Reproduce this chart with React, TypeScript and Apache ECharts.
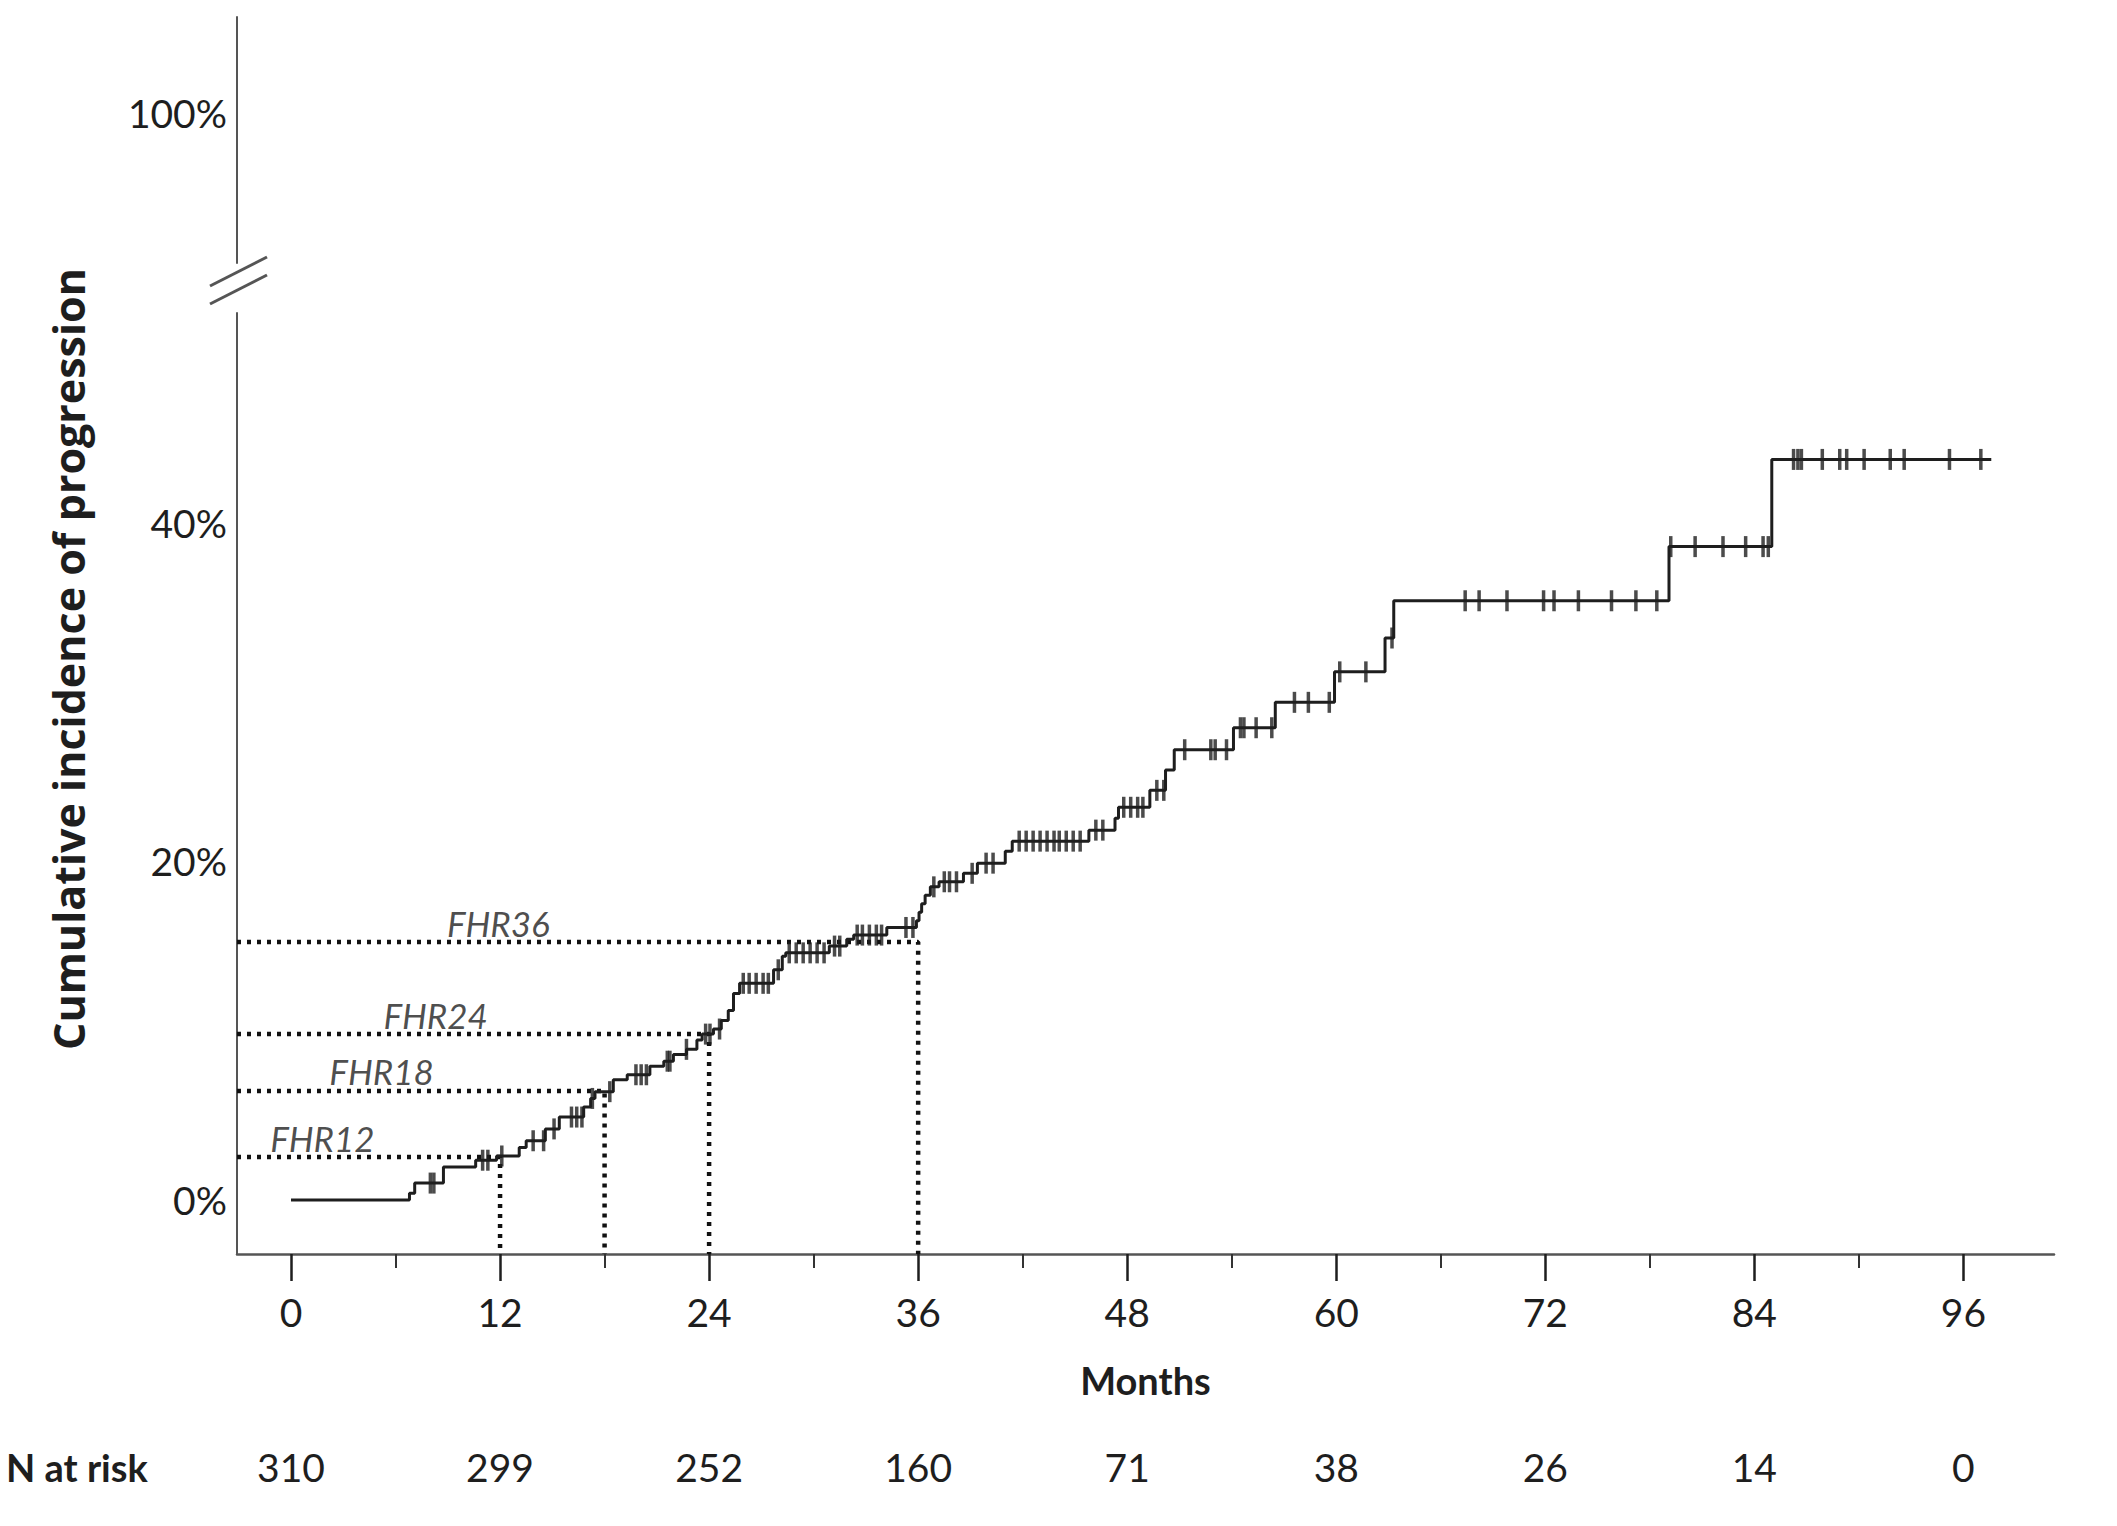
import React, { useEffect, useRef } from "react";
import * as echarts from "echarts";

// Cumulative incidence curve (step points: month, % after the step)
const stepMonths = [
  0, 6.8, 7.1, 8.75, 10.6, 11.8, 13.1, 13.5, 14.6, 15.4, 16.8, 17.2, 17.45,
  18.5, 19.3, 20.6, 21.4, 21.95, 22.7, 23.3, 23.6, 24.25, 24.7, 25.1, 25.4,
  25.75, 27.7, 28.2, 28.4, 30.9, 31.9, 32.3, 34.2, 35.9, 36.05, 36.2, 36.4,
  36.7, 37.2, 38.6, 39.4, 41.0, 41.4, 45.8, 47.3, 47.5, 49.3, 50.2, 50.7,
  54.1, 56.5, 59.9, 62.8, 63.3, 79.1, 85.0, 97.6,
];
const stepPct = [
  0, 0.4, 1.0, 1.95, 2.35, 2.6, 3.1, 3.5, 4.2, 4.9, 5.5, 6.0, 6.4,
  7.1, 7.4, 7.9, 8.2, 8.6, 8.9, 9.45, 9.8, 10.1, 10.6, 11.2, 12.2,
  12.8, 13.6, 14.4, 14.6, 15.0, 15.4, 15.65, 16.1, 16.5, 17.0, 17.5, 18.0,
  18.5, 18.8, 19.3, 19.9, 20.6, 21.2, 21.85, 22.55, 23.2, 24.2, 25.4, 26.6,
  27.9, 29.4, 31.2, 33.2, 35.4, 38.6, 43.75, 43.75,
];

// censored observations (months)
const censorMonths = [
  8.0, 8.2, 11.0, 11.3, 12.1, 13.9, 14.5, 15.1, 16.1, 16.4, 16.7, 17.3, 18.3,
  19.8, 20.1, 20.4, 21.6, 21.75, 22.7, 23.8, 24.05, 24.6, 25.96, 26.3, 26.7,
  27.1, 27.4, 27.97, 28.6, 29.0, 29.4, 29.8, 30.2, 30.6, 31.2, 31.5, 32.5,
  32.8, 33.2, 33.6, 33.9, 35.3, 35.7, 36.9, 37.5, 37.8, 38.2, 39.1, 39.9,
  40.3, 41.8, 42.2, 42.6, 43.0, 43.4, 43.8, 44.1, 44.5, 44.9, 45.3, 46.2,
  46.6, 47.8, 48.2, 48.6, 48.9, 49.7, 50.1, 51.3, 52.8, 53.05, 53.7, 54.5,
  54.7, 55.4, 56.3, 57.6, 58.4, 59.6, 60.2, 61.7, 63.2, 67.4, 68.2, 69.8,
  71.9, 72.5, 73.9, 75.8, 77.2, 78.4, 79.2, 80.6, 82.2, 83.5, 84.5, 84.8,
  86.25, 86.5, 86.7, 87.9, 88.9, 89.3, 90.3, 91.8, 92.6, 95.2, 97.0,
];

// FHR reference lines
const fhrNames = ["FHR12", "FHR18", "FHR24", "FHR36"];
const fhrMonths = [12, 18, 24, 36];
const fhrValues = [2.54, 6.44, 9.8, 15.24];
const fhrLabelAt = [1.8, 5.2, 8.3, 11.9];

const monthTicks = [0, 12, 24, 36, 48, 60, 72, 84, 96];
const minorTicks = [6, 18, 30, 42, 54, 66, 78, 90];
const nAtRisk = [310, 299, 252, 160, 71, 38, 26, 14, 0];
const lowerTicks = [0, 20, 40];
const upperTicks = [100];

const X_MIN = -3.1;
const X_MAX = 101.2;
const Y_MIN = -3.19;
const Y_MAX = 52.4;
const Y2_MIN = 91.14;
const Y2_MAX = 105.67;

const INK = "#1e1e1e";
const AXIS = "#555";

const curveAt = (t: number) => {
  let v = stepPct[0];
  for (let i = 0; i < stepMonths.length; i++) {
    if (stepMonths[i] <= t) v = stepPct[i];
  }
  return v;
};

const App = () => {
  const chartRef = useRef<HTMLDivElement>(null);

  useEffect(() => {
    if (!chartRef.current) return;
    const chart = echarts.init(chartRef.current, null, { renderer: "svg" });

    const dotted = fhrNames.map((n, i) => ({
      type: "line",
      name: n,
      xAxisIndex: 0,
      yAxisIndex: 0,
      symbol: "none",
      z: 1,
      lineStyle: { color: "#111", width: 4.5, type: [4, 6], cap: "butt" },
      data: [
        [X_MIN, fhrValues[i]],
        [fhrMonths[i], fhrValues[i]],
        [fhrMonths[i], Y_MIN],
      ],
    }));

    chart.setOption({
      animation: false,
      textStyle: { fontFamily: "Lato" },
      grid: [
        { left: 237, right: 63, top: 313, bottom: 272 },
        { left: 237, right: 63, top: 17, height: 246 },
      ],
      xAxis: [
        {
          gridIndex: 0,
          type: "value",
          position: "bottom",
          min: X_MIN,
          max: X_MAX,
          name: "Months",
          nameLocation: "middle",
          nameGap: 107,
          nameTextStyle: { fontSize: 38, fontWeight: "bold", color: INK },
          axisLine: { onZero: false, lineStyle: { color: AXIS, width: 2.5 } },
          axisTick: {
            customValues: monthTicks,
            length: 27,
            lineStyle: { color: INK, width: 2.5 },
          },
          axisLabel: {
            customValues: monthTicks,
            margin: 38,
            fontSize: 39,
            color: INK,
          },
          splitLine: { show: false },
        },
        {
          gridIndex: 0,
          type: "value",
          position: "bottom",
          min: X_MIN,
          max: X_MAX,
          axisLine: { show: false, onZero: false },
          axisTick: {
            customValues: minorTicks,
            length: 14,
            lineStyle: { color: "#333", width: 2 },
          },
          axisLabel: { show: false },
          splitLine: { show: false },
        },
        {
          gridIndex: 0,
          type: "value",
          min: X_MIN,
          max: X_MAX,
          position: "bottom",
          offset: 185,
          axisLine: { show: false, onZero: false },
          axisTick: { show: false },
          axisLabel: {
            customValues: monthTicks,
            margin: 8,
            fontSize: 39,
            color: INK,
            formatter: (v: number) => String(nAtRisk[monthTicks.indexOf(v)]),
          },
          splitLine: { show: false },
        },
        {
          gridIndex: 1,
          type: "value",
          min: X_MIN,
          max: X_MAX,
          show: false,
        },
      ],
      yAxis: [
        {
          gridIndex: 0,
          type: "value",
          min: Y_MIN,
          max: Y_MAX,
          axisLine: { show: true, onZero: false, lineStyle: { color: AXIS, width: 2 } },
          axisTick: { show: false },
          axisLabel: {
            customValues: lowerTicks,
            formatter: "{value}%",
            fontSize: 39,
            margin: 10,
            color: INK,
          },
          splitLine: { show: false },
        },
        {
          gridIndex: 1,
          type: "value",
          min: Y2_MIN,
          max: Y2_MAX,
          axisLine: { show: true, onZero: false, lineStyle: { color: AXIS, width: 2 } },
          axisTick: { show: false },
          axisLabel: {
            customValues: upperTicks,
            formatter: "{value}%",
            fontSize: 39,
            margin: 10,
            color: INK,
          },
          splitLine: { show: false },
        },
      ],
      graphic: [
        {
          type: "line",
          shape: { x1: 210, y1: 286, x2: 267, y2: 257 },
          style: { stroke: AXIS, lineWidth: 3 },
        },
        {
          type: "line",
          shape: { x1: 210, y1: 304, x2: 267, y2: 275 },
          style: { stroke: AXIS, lineWidth: 3 },
        },
        {
          type: "text",
          x: 68,
          y: 659,
          rotation: Math.PI / 2,
          style: {
            text: "Cumulative incidence of progression",
            fontFamily: "Open Sans",
            fontWeight: "bold",
            fontSize: 43,
            fill: INK,
            align: "center",
            verticalAlign: "middle",
          },
        },
        {
          type: "text",
          x: 6,
          y: 1467,
          style: {
            text: "N at risk",
            fontFamily: "Lato",
            fontWeight: "bold",
            fontSize: 38,
            fill: INK,
            align: "left",
            verticalAlign: "middle",
          },
        },
      ],
      series: [
        ...dotted,
        {
          type: "line",
          name: "Cumulative incidence",
          xAxisIndex: 0,
          yAxisIndex: 0,
          step: "end",
          symbol: "none",
          z: 3,
          lineStyle: { color: INK, width: 3 },
          data: stepMonths.map((m, i) => [m, stepPct[i]]),
        },
        {
          type: "scatter",
          name: "Censored",
          xAxisIndex: 0,
          yAxisIndex: 0,
          symbol: "rect",
          symbolSize: [3.5, 21],
          z: 4,
          itemStyle: { color: INK },
          data: censorMonths.map((t) => [t, curveAt(t)]),
        },
        {
          type: "scatter",
          name: "FHR labels",
          xAxisIndex: 0,
          yAxisIndex: 0,
          symbolSize: 0,
          z: 5,
          label: {
            show: true,
            position: "top",
            distance: 2,
            formatter: "{b}",
            fontStyle: "italic",
            fontSize: 35,
            color: INK,
          },
          data: fhrNames.map((n, i) => ({
            name: n,
            value: [fhrLabelAt[i], fhrValues[i]],
          })),
        },
      ],
    });

    return () => {
      chart.dispose();
    };
  }, []);

  return (
    <div
      ref={chartRef}
      style={{ position: "absolute", left: 0, top: 0, width: 2117, height: 1526, background: "#fff" }}
    ></div>
  );
};

export default App;
